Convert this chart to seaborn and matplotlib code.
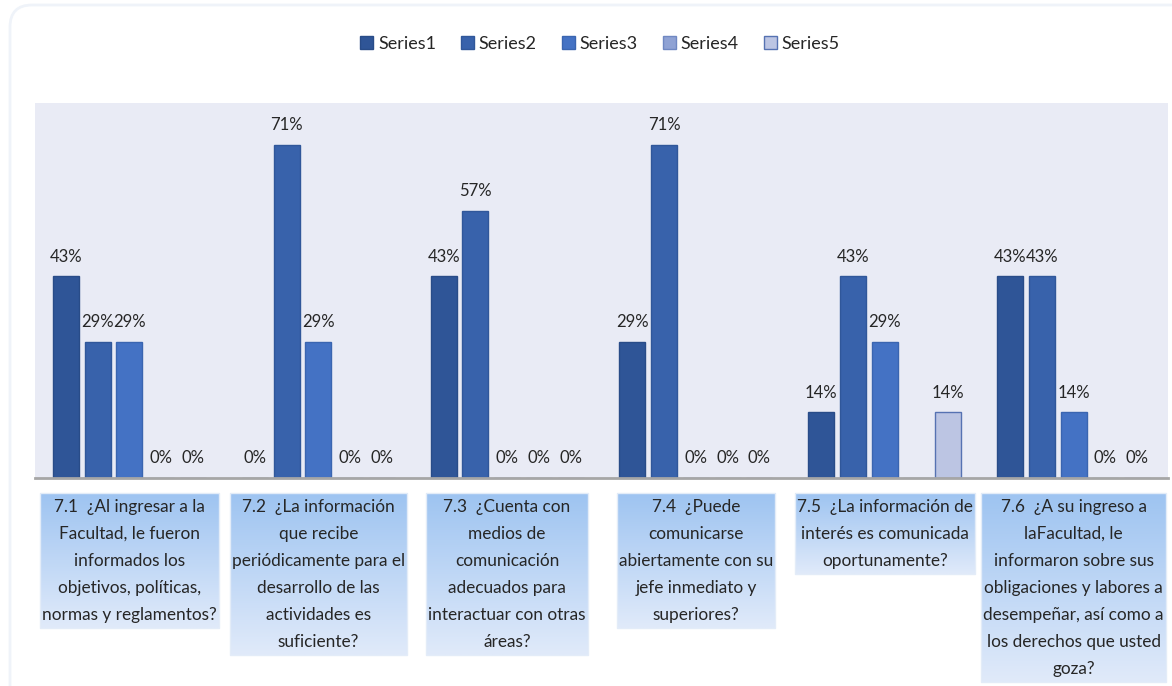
import numpy as np
import pandas as pd
import matplotlib
matplotlib.use("Agg")
import matplotlib.pyplot as plt
import seaborn as sns
from matplotlib.patches import FancyBboxPatch

# ---- data -------------------------------------------------------------
codigos = ["7.1", "7.2", "7.3", "7.4", "7.5", "7.6"]
preguntas = [
    "7.1  ¿Al ingresar a la\nFacultad, le fueron\ninformados los\nobjetivos, políticas,\nnormas y reglamentos?",
    "7.2  ¿La información\nque recibe\nperiódicamente para el\ndesarrollo de las\nactividades es\nsuficiente?",
    "7.3  ¿Cuenta con\nmedios de\ncomunicación\nadecuados para\ninteractuar con otras\náreas?",
    "7.4  ¿Puede\ncomunicarse\nabiertamente con su\njefe inmediato y\nsuperiores?",
    "7.5  ¿La información de\ninterés es comunicada\noportunamente?",
    "7.6  ¿A su ingreso a\nlaFacultad, le\ninformaron sobre sus\nobligaciones y labores a\ndesempeñar, así como a\nlos derechos que usted\ngoza?",
]
series_names = ["Series1", "Series2", "Series3", "Series4", "Series5"]
series1 = [0.43, 0.00, 0.43, 0.29, 0.14, 0.43]
series2 = [0.29, 0.71, 0.57, 0.71, 0.43, 0.43]
series3 = [0.29, 0.29, 0.00, 0.00, 0.29, 0.14]
series4 = [0.00, 0.00, 0.00, 0.00, None, 0.00]
series5 = [0.00, 0.00, 0.00, 0.00, 0.14, 0.00]
all_series = [series1, series2, series3, series4, series5]

fill_colors = ["#2F5597", "#3862AB", "#4472C4", "#8FA2D4", "#BCC5E3"]
edge_colors = ["#294C88", "#30579A", "#3A65B0", "#7088C2", "#5672B2"]

rows = []
for name, vals in zip(series_names, all_series):
    for cod, v in zip(codigos, vals):
        rows.append({"codigo": cod, "serie": name, "valor": v})
df = pd.DataFrame(rows)
df["altura"] = df["valor"].fillna(0.0)

# ---- figure -----------------------------------------------------------
W, H = 1172, 686
sns.set_theme(style="white")
plt.rcParams["font.family"] = ["Lato", "DejaVu Sans"]

fig = plt.figure(figsize=(W / 100, H / 100), dpi=100, facecolor="white")

# pixel-space overlay for decoration and category captions
ov = fig.add_axes([0, 0, 1, 1], zorder=-1)
ov.set_xlim(0, W)
ov.set_ylim(H, 0)
ov.set_autoscale_on(False)
ov.axis("off")
ov.add_patch(FancyBboxPatch((10, 5), 1200, 720,
                            boxstyle="round,pad=0,rounding_size=22",
                            fc="none", ec="#EFF3F9", lw=2))

left, right, top, bottom = 35, 1168, 103, 478
ax = fig.add_axes([left / W, 1 - bottom / H, (right - left) / W, (bottom - top) / H])
ax.set_facecolor("#E9EBF5")

sns.barplot(data=df, x="codigo", y="altura", hue="serie",
            order=codigos, hue_order=series_names,
            palette=fill_colors, width=0.84, gap=0.18,
            errorbar=None, saturation=1, legend=False, ax=ax)

for cont, ec in zip(ax.containers, edge_colors):
    for bar in cont:
        bar.set_edgecolor(ec)
        bar.set_linewidth(1.0)

for cont, vals in zip(ax.containers, all_series):
    labels = ["" if v is None else f"{v * 100:.0f}%" for v in vals]
    ax.bar_label(cont, labels=labels, padding=8.5, fontsize=12, color="#262626")

ax.set_xlim(-0.5, len(codigos) - 0.5)
ax.set_ylim(0, 0.8)
ax.set_xlabel("")
ax.set_ylabel("")
ax.tick_params(length=0, labelbottom=False, labelleft=False)
for side in ["top", "left", "right"]:
    ax.spines[side].set_visible(False)
ax.spines["bottom"].set_color("#A6A6A6")
ax.spines["bottom"].set_linewidth(2)

# legend with square swatches
handles = [matplotlib.patches.Patch(facecolor=fc, edgecolor=ec, lw=1)
           for fc, ec in zip(fill_colors, edge_colors)]
fig.legend(handles, series_names, loc="center",
           bbox_to_anchor=(600 / W, 1 - 44 / H), ncol=5, frameon=False,
           fontsize=13, handlelength=0.72, handleheight=0.72,
           handletextpad=0.25, columnspacing=1.4, labelcolor="#262626")

# ---- category captions in gradient boxes -------------------------------
fig.canvas.draw()
renderer = fig.canvas.get_renderer()
first_line, line_step = 507, 27
top_col = np.array([158, 196, 241]) / 255
bot_col = np.array([224, 234, 250]) / 255

for i, texto in enumerate(preguntas):
    cx = ax.transData.transform((i, 0))[0]
    lineas = texto.split("\n")
    widths = []
    for j, linea in enumerate(lineas):
        t = ov.text(cx, first_line + j * line_step, linea, ha="center",
                    va="center", fontsize=12.4, color="#262626", zorder=3)
        widths.append(t.get_window_extent(renderer).width)
    half = max(widths) / 2 + 2
    y0 = first_line - 14
    y1 = first_line + (len(lineas) - 1) * line_step + 13
    n = 64
    frac = np.linspace(0, 1, n)[:, None]
    grad = (top_col[None, :] * (1 - frac) + bot_col[None, :] * frac)[:, None, :]
    ov.imshow(grad, extent=(cx - half, cx + half, y1, y0), origin="upper",
              aspect="auto", zorder=1, interpolation="bilinear")
    ov.add_patch(plt.Rectangle((cx - half, y0), 2 * half, y1 - y0, fc="none",
                               ec="#E3ECF8", lw=1, zorder=2))

ov.set_xlim(0, W)
ov.set_ylim(H, 0)

fig.savefig("out.png", dpi=100, facecolor="white")
